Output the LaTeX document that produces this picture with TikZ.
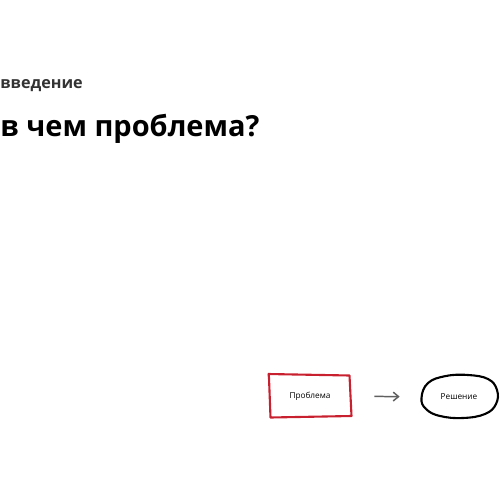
\documentclass[tikz,border=0pt]{standalone}
\usepackage{fontspec}
\setmainfont{Open Sans}
\usepackage{tikz}
\usetikzlibrary{arrows.meta,positioning,shapes.geometric}
\definecolor{sketchred}{HTML}{C8202E}
\definecolor{arrowgrey}{HTML}{606060}
\definecolor{headgrey}{HTML}{333333}

\begin{document}
\begin{tikzpicture}[x=0.02cm, y=-0.02cm]
    \def\lw{1.2pt}
    \useasboundingbox (0,0) rectangle (500,500);
    % headings
    \node(sect) [anchor=base west, inner sep=0, text=headgrey, font=\fontsize{9.2}{11}\selectfont\bfseries] at (0,89) {введение};
    \node(title) [anchor=base west, inner sep=0, text=black, font=\fontsize{16.5}{19}\selectfont\bfseries] at (0,136) {в чем проблема?};
    % sketch
    \node(prob) [minimum width = 84*0.02cm, minimum height = 43*0.02cm, font=\fontsize{4.7}{5}\selectfont] at (310,396) {Проблема};
    \node(sol) [ellipse, minimum width = 76*0.02cm, minimum height = 43*0.02cm, font=\fontsize{4.7}{5}\selectfont] at (459,397) {Решение};
    \draw[sketchred, line width=\lw, line join=round]
        (268,374) -- (349.5,375.5) -- (351.5,416) -- (270.5,417.5) -- (269,378) -- (268.5,373.5);
    \draw[black, line width=\lw]
        plot[smooth cycle, tension=0.7] coordinates {(421.5,398) (428,383) (446,376) (468,375) (488,379) (497,390) (496,404) (485,414) (463,418) (440,416) (426,409)};
    \draw[-{Straight Barb[length=3pt, width=5pt]}, arrowgrey, line width=0.85pt, shorten <= 22*0.02cm, shorten >= 21*0.02cm] (prob) -- (sol);
\end{tikzpicture}
\end{document}
